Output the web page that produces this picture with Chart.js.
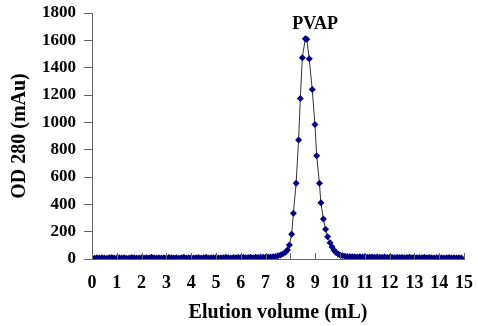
<!DOCTYPE html>
<html>
<head>
<meta charset="utf-8">
<script src="https://cdn.jsdelivr.net/npm/chart.js@4"></script>
<style>
  html, body { margin: 0; padding: 0; background: #fff; }
  #wrap { width: 478px; height: 326px; }
</style>
</head>
<body>
<div id="wrap"><canvas id="grafico" width="478" height="326"></canvas></div>
<script>
// volumes (mL) e leituras OD 280 (mAu)
const volumes = [
  0.0, 0.1, 0.2, 0.3, 0.4, 0.5, 0.6, 0.7, 0.8, 0.9,
  1.0, 1.1, 1.2, 1.3, 1.4, 1.5, 1.6, 1.7, 1.8, 1.9,
  2.0, 2.1, 2.2, 2.3, 2.4, 2.5, 2.6, 2.7, 2.8, 2.9,
  3.0, 3.1, 3.2, 3.3, 3.4, 3.5, 3.6, 3.7, 3.8, 3.9,
  4.0, 4.1, 4.2, 4.3, 4.4, 4.5, 4.6, 4.7, 4.8, 4.9,
  5.0, 5.1, 5.2, 5.3, 5.4, 5.5, 5.6, 5.7, 5.8, 5.9,
  6.0, 6.1, 6.2, 6.3, 6.4, 6.5, 6.6, 6.7, 6.8, 6.9,
  7.0, 7.1, 7.2, 7.3, 7.4, 7.5, 7.6, 7.7, 7.8, 7.88,
  7.96, 8.05, 8.12, 8.23, 8.33, 8.40, 8.48, 8.60, 8.66, 8.76,
  8.88, 8.99, 9.06, 9.17, 9.23, 9.33, 9.42, 9.50, 9.60, 9.68,
  9.76, 9.84, 9.92, 10.0, 10.1, 10.2, 10.3, 10.4, 10.5, 10.6,
  10.7, 10.8, 10.9, 11.0, 11.1, 11.2, 11.3, 11.4, 11.5, 11.6,
  11.7, 11.8, 11.9, 12.0, 12.1, 12.2, 12.3, 12.4, 12.5, 12.6,
  12.7, 12.8, 12.9, 13.0, 13.1, 13.2, 13.3, 13.4, 13.5, 13.6,
  13.7, 13.8, 13.9, 14.0, 14.1, 14.2, 14.3, 14.4, 14.5, 14.6,
  14.7, 14.8, 14.9
];
const od280 = [
  8, 6, 9, 7, 10, 8, 6, 9, 11, 7,
  8, 10, 7, 9, 6, 8, 11, 9, 7, 8,
  10, 7, 9, 8, 12, 9, 7, 10, 8, 9,
  7, 11, 9, 8, 10, 6, 9, 12, 8, 10,
  9, 7, 10, 11, 8, 9, 12, 8, 10, 9,
  11, 8, 10, 9, 12, 10, 8, 11, 9, 12,
  10, 12, 9, 11, 13, 10, 12, 11, 14, 12,
  13, 15, 14, 17, 19, 23, 29, 38, 50, 66,
  102, 181, 334, 554, 870, 1175, 1473, 1612, 1608, 1465,
  1241, 985, 756, 554, 412, 293, 217, 163, 119, 88,
  64, 47, 36, 29, 24, 21, 19, 18, 17, 16,
  15, 17, 14, 16, 13, 15, 14, 12, 15, 13,
  12, 14, 11, 13, 12, 10, 13, 11, 12, 10,
  11, 13, 10, 12, 9, 11, 10, 12, 9, 11,
  10, 8, 11, 9, 10, 8, 9, 11, 8, 9,
  8, 10, 7
];
const ticksX = [0, 1, 2, 3, 4, 5, 6, 7, 8, 9, 10, 11, 12, 13, 14, 15];
const ticksY = [0, 200, 400, 600, 800, 1000, 1200, 1400, 1600, 1800];
const rotuloPico = 'PVAP';

const fonte = 'Liberation Serif, Times New Roman, serif';
const corEixo = '#666';

// marcas do eixo x para dentro + rótulo do pico
const extras = {
  id: 'extras',
  afterDraw(chart) {
    const ctx = chart.ctx;
    const sx = chart.scales.x;
    const sy = chart.scales.y;
    const base = sy.getPixelForValue(0);
    ctx.save();
    ctx.strokeStyle = corEixo;
    ctx.lineWidth = 1;
    ticksX.forEach(v => {
      const px = Math.round(sx.getPixelForValue(v)) + 0.5;
      ctx.beginPath();
      ctx.moveTo(px, base);
      ctx.lineTo(px, base - 6);
      ctx.stroke();
    });
    ctx.fillStyle = '#000';
    ctx.font = 'bold 18px ' + fonte;
    ctx.textAlign = 'center';
    ctx.textBaseline = 'middle';
    ctx.fillText(rotuloPico, sx.getPixelForValue(9.0), sy.getPixelForValue(1716));
    ctx.restore();
  }
};

new Chart(document.getElementById('grafico').getContext('2d'), {
  type: 'line',
  data: {
    datasets: [{
      data: volumes.map((v, i) => ({ x: v, y: od280[i] })),
      borderColor: '#333',
      borderWidth: 1,
      backgroundColor: '#000080',
      pointBackgroundColor: '#000080',
      pointBorderColor: '#000080',
      pointStyle: 'rectRot',
      pointRadius: 3.5,
      pointBorderWidth: 0,
      tension: 0,
      fill: false
    }]
  },
  options: {
    responsive: false,
    animation: false,
    devicePixelRatio: 1,
    layout: { padding: { left: 8, top: 13, right: 14, bottom: 1 } },
    plugins: {
      legend: { display: false },
      tooltip: { enabled: false }
    },
    scales: {
      x: {
        type: 'linear',
        min: 0,
        max: 15,
        afterBuildTicks: s => { s.ticks = ticksX.map(v => ({ value: v })); },
        afterFit: s => { s.height = 66; s.paddingLeft = 0; s.paddingRight = 0; },
        border: { color: corEixo, width: 1 },
        grid: { display: true, drawOnChartArea: false, drawTicks: false, tickLength: 0 },
        ticks: {
          padding: 14,
          color: '#000',
          font: { family: fonte, size: 18, weight: 'bold' },
          maxRotation: 0,
          autoSkip: false,
          callback: v => String(v)
        },
        title: {
          display: true,
          text: 'Elution volume (mL)',
          color: '#000',
          font: { family: fonte, size: 20, weight: 'bold' },
          padding: { top: 0, bottom: 0 }
        }
      },
      y: {
        min: 0,
        max: 1800,
        afterBuildTicks: s => { s.ticks = ticksY.map(v => ({ value: v })); },
        afterFit: s => { s.width = 84; s.paddingTop = 0; s.paddingBottom = 0; },
        border: { color: corEixo, width: 1 },
        grid: { drawOnChartArea: false, tickLength: 8, color: corEixo },
        ticks: {
          padding: 8,
          color: '#000',
          font: { family: fonte, size: 17, weight: 'bold' },
          callback: v => String(v)
        },
        title: {
          display: true,
          text: 'OD 280 (mAu)',
          color: '#000',
          font: { family: fonte, size: 20, weight: 'bold' },
          padding: { top: 0, bottom: 0 }
        }
      }
    }
  },
  plugins: [extras]
});
</script>
</body>
</html>
